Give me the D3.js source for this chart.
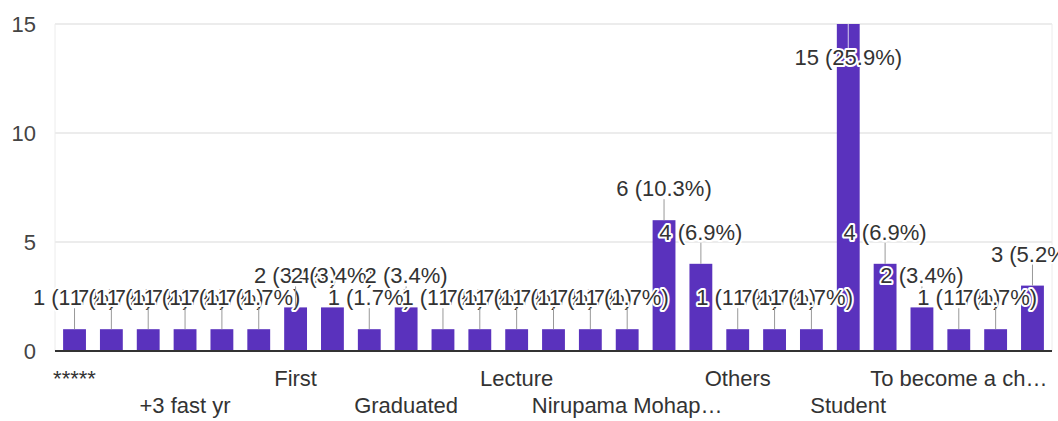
<!DOCTYPE html>
<html>
<head>
<meta charset="utf-8">
<script src="https://cdn.jsdelivr.net/npm/d3@7"></script>
<style>
  body { margin: 0; background: #fff; }
  text { font-family: Arial, "Liberation Sans", sans-serif; }
</style>
</head>
<body>
<script>
// answers, in the order the form chart lists them (only every third name is readable)
var categories = ["*****", "", "", "+3 fast yr", "", "", "First", "", "", "Graduated",
    "", "", "Lecture", "", "", "Nirupama Mohap\u2026", "", "", "Others", "", "",
    "Student", "", "", "To become a ch\u2026", "", ""];
var counts = [1, 1, 1, 1, 1, 1, 2, 2, 1, 2,
    1, 1, 1, 1, 1, 1, 6, 4, 1, 1, 1,
    15, 4, 2, 1, 1, 3];
var yTicks = [0, 5, 10, 15];

(function(){

var width = 1058, height = 421;
var plotLeft = 55, plotRight = 1052, plotTop = 24, plotBottom = 351;
var barColor = "#5a32bd";

var total = d3.sum(counts);

var svg = d3.select("body").append("svg")
    .attr("width", width)
    .attr("height", height);

var x = d3.scaleBand()
    .domain(d3.range(counts.length))
    .range([plotLeft, plotRight])
    .paddingInner(0.38)
    .paddingOuter(0.22);

var y = d3.scaleLinear()
    .domain([0, 15])
    .range([plotBottom, plotTop]);

//gridlines
svg.selectAll(".grid")
    .data(yTicks.slice(1))
    .enter()
    .append("line")
    .attr("x1", plotLeft)
    .attr("x2", plotRight)
    .attr("y1", function(d){ return y(d); })
    .attr("y2", function(d){ return y(d); })
    .attr("stroke", "#e6e6e6")
    .attr("stroke-width", 1.5);

//faint frame lines at both ends
svg.selectAll(".edge")
    .data([plotLeft, plotRight])
    .enter()
    .append("line")
    .attr("x1", function(d){ return d; })
    .attr("x2", function(d){ return d; })
    .attr("y1", y(15))
    .attr("y2", plotBottom)
    .attr("stroke", "#ececec")
    .attr("stroke-width", 1);

//y axis labels
var yAxis = d3.axisLeft(y).tickValues(yTicks).tickSize(0).tickPadding(0);
var yg = svg.append("g")
    .attr("transform", "translate(36,0)")
    .call(yAxis);
yg.select(".domain").remove();
yg.selectAll("text")
    .attr("font-size", 22)
    .attr("fill", "#444")
    .style("font-family", "Arial, 'Liberation Sans', sans-serif");

//bars
svg.selectAll(".bar")
    .data(counts)
    .enter()
    .append("rect")
    .attr("class", "bar")
    .attr("x", function(d, i){ return x(i); })
    .attr("width", x.bandwidth())
    .attr("y", function(d){ return y(d); })
    .attr("height", function(d){ return plotBottom - y(d); })
    .attr("fill", barColor);

//baseline
svg.append("line")
    .attr("x1", plotLeft)
    .attr("x2", plotRight)
    .attr("y1", plotBottom)
    .attr("y2", plotBottom)
    .attr("stroke", "#333")
    .attr("stroke-width", 2);

//x labels, every third one, staggered on two rows
var xg = svg.append("g");
xg.selectAll("text")
    .data(categories.map(function(c, i){ return {name: c, i: i}; })
        .filter(function(d){ return d.i % 3 == 0; }))
    .enter()
    .append("text")
    .attr("x", function(d){ return x(d.i) + x.bandwidth() / 2; })
    .attr("y", function(d){ return d.i % 6 == 0 ? 386 : 413; })
    .attr("text-anchor", "middle")
    .attr("font-size", 22)
    .attr("fill", "#333")
    .text(function(d){ return d.name; });

//annotations with stems
var ann = svg.append("g");
counts.forEach(function(v, i){
    var cx = x(i) + x.bandwidth() / 2;
    var t = y(v);
    var inside = t - 24 - 16 < 0;
    var label = v + " (" + d3.format(".1f")(v / total * 100) + "%)";
    if (inside){
        ann.append("line")
            .attr("x1", cx).attr("x2", cx)
            .attr("y1", t).attr("y2", t + 24)
            .attr("stroke", "#d8d0ee")
            .attr("stroke-width", 1);
        ann.append("text")
            .attr("x", cx)
            .attr("y", t + 41)
            .attr("text-anchor", "middle")
            .attr("font-size", 22)
            .attr("fill", "#333")
            .attr("stroke", "#fff")
            .attr("stroke-width", 4)
            .attr("stroke-linejoin", "round")
            .attr("paint-order", "stroke")
            .text(label);
    } else {
        ann.append("line")
            .attr("x1", cx).attr("x2", cx)
            .attr("y1", t).attr("y2", t - 21)
            .attr("stroke", "#999")
            .attr("stroke-width", 1);
        ann.append("text")
            .attr("x", cx)
            .attr("y", t - 24)
            .attr("text-anchor", "middle")
            .attr("font-size", 22)
            .attr("fill", "#333")
            .attr("stroke", "#fff")
            .attr("stroke-width", 4)
            .attr("stroke-linejoin", "round")
            .attr("paint-order", "stroke")
            .text(label);
    }
});

})();
</script>
</body>
</html>
